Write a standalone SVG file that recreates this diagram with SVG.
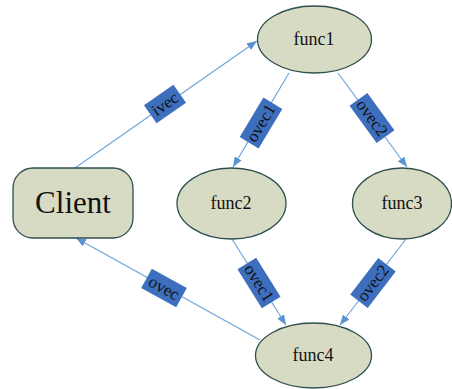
<svg xmlns="http://www.w3.org/2000/svg" width="452" height="389" viewBox="0 0 452 389">
<style>
.node{fill:#d8dbc3;stroke:#2f4f4f;stroke-width:1.3}
.nt{font-family:"Liberation Serif",serif;font-size:18px;fill:#111;text-anchor:middle;dominant-baseline:central}
.edge{stroke:#6ea6dc;stroke-width:1.2;fill:none;marker-end:url(#ah)}
.lb{fill:#3d6fbe}
.lt{font-family:"Liberation Serif",serif;font-size:17px;fill:#111;text-anchor:middle;dominant-baseline:central}
</style>
<defs>
<marker id="ah" markerUnits="userSpaceOnUse" markerWidth="11" markerHeight="8" refX="10" refY="4" orient="auto">
<path d="M0,0 L10,4 L0,8 Z" fill="#5b93d0"/>
</marker>
</defs>
<rect width="452" height="389" fill="#fff"/>
<g id="connectors">
<line class="edge" x1="75" y1="168" x2="257" y2="41"/>
<line class="edge" x1="289" y1="73" x2="233" y2="167"/>
<line class="edge" x1="338" y1="73" x2="407" y2="167"/>
<line class="edge" x1="232" y1="239" x2="286" y2="325"/>
<line class="edge" x1="406" y1="239" x2="340" y2="325"/>
<line class="edge" x1="260" y1="340" x2="76" y2="238"/>
<g transform="translate(165,104) rotate(-35)"><rect class="lb" x="-18" y="-11" width="36" height="22"/><text class="lt" x="0" y="0">ivec</text></g>
<g transform="translate(261,123) rotate(-59)"><rect class="lb" x="-23" y="-11" width="46" height="22"/><text class="lt" x="0" y="0">ovec1</text></g>
<g transform="translate(372,118) rotate(54)"><rect class="lb" x="-23" y="-11" width="46" height="22"/><text class="lt" x="0" y="0">ovec2</text></g>
<g transform="translate(259,283) rotate(58)"><rect class="lb" x="-23" y="-11" width="46" height="22"/><text class="lt" x="0" y="0">ovec1</text></g>
<g transform="translate(373,283) rotate(-52.5)"><rect class="lb" x="-23" y="-11" width="46" height="22"/><text class="lt" x="0" y="0">ovec2</text></g>
<g transform="translate(164,288) rotate(29)"><rect class="lb" x="-20" y="-11" width="40" height="22"/><text class="lt" x="0" y="0">ovec</text></g>
</g>
<g id="func1"><ellipse class="node" cx="314.5" cy="39.5" rx="57" ry="33.5"/><text class="nt" x="314" y="39">func1</text></g>
<g id="func2"><ellipse class="node" cx="231.5" cy="203.5" rx="54.5" ry="35.5"/><text class="nt" x="231" y="203">func2</text></g>
<g id="func3"><ellipse class="node" cx="402" cy="203.5" rx="49.5" ry="35.5"/><text class="nt" x="402" y="203">func3</text></g>
<g id="func4"><ellipse class="node" cx="313.5" cy="355.5" rx="58" ry="32.5"/><text class="nt" x="313" y="355">func4</text></g>
<g id="Client"><rect class="node" x="13" y="168" width="120" height="70" rx="20" ry="20"/><text class="nt" x="73" y="202" style="font-size:31px">Client</text></g>
</svg>
